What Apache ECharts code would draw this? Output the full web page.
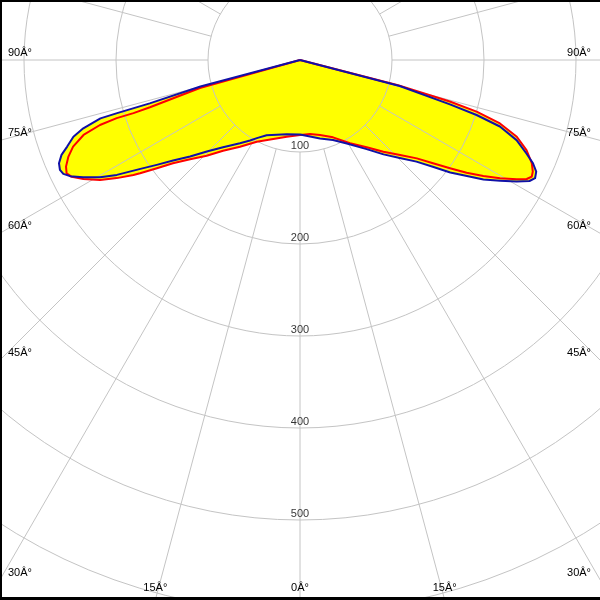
<!DOCTYPE html>
<html><head><meta charset="utf-8">
<script src="https://cdn.jsdelivr.net/npm/echarts@6/dist/echarts.min.js"></script>
<style>html,body{margin:0;padding:0;background:#fff}#c{width:600px;height:600px}</style>
</head><body><div id="c"></div>
<script>
// ---- data (intensity vs angle in degrees, 0 = downward, + = right) ----
const blueAngles = [-90,-75.2,-75.1,-73.9,-73.85,-73.8,-73.7,-72.5,-71.3,-69.6,-68.3,-66.8,-65.4,-64.3,-63.2,-61.6,-59.6,-57.9,-55.7,-53.8,-51.6,-48.7,-45.5,-41.4,-35.8,-31.8,-28.9,-23.9,-10.2,0,14.3,22.4,29.3,36.8,41.5,45.5,48.9,51.3,53.2,55.2,56.9,58.9,60.7,62.2,63.3,64.7,66.1,67.6,69.7,71.6,72.7,73.5,75.4,75.5,90];
const blueValues = [0,0,112,170,189,207,226,247,260,270,279,285,287,285.5,280,268,252,235,210,193,176,159,142,126.5,111.6,103,97,89.5,82,81,88,94,104,121,137,152,168,186,204,221,238,254,270,282,286,284,277,266,251,229,201,170,112,0,0];
const redAngles = [-90,-75.1,-74.4,-72.5,-72.3,-72.4,-72.0,-70.9,-69.1,-67.3,-65.5,-64.1,-62.9,-61.2,-59,-57.2,-55.4,-54.7,-52.9,-50.9,-47.9,-44.3,-40.3,-34.7,-27.9,-9.8,0,7.7,14.9,23.1,31,37.4,42.3,46.5,49.9,52.2,54.2,55.9,57.7,59.4,61.2,62.3,63.3,64.4,66,68.3,70.5,72.4,73.7,74.5,75.6,75.8,90];
const redValues = [0,0,113,171,190,209,228.6,249,264,273,279.5,282,278.7,268.7,253.5,237,220,213,195,178,161,145.3,129.3,114.6,100.5,84.6,81.5,81.2,84.4,91.4,105.6,119.4,134.7,150,166,183,201,218.7,235.8,252.6,268.9,278.3,282,280.6,275.8,265,250,228,200,169,110,0,0];
const ringValues = [100,200,300,400,500];
const angleTicks = [-90,-75,-60,-45,-30,-15,0,15,30,45,60,75,90];
const angleTickLabels = ['90Â°','75Â°','60Â°','45Â°','30Â°','15Â°','0Â°','15Â°','30Â°','45Â°','60Â°','75Â°','90Â°'];

// ---- layout ----
const W = 600, H = 600, CX = 300, CY = 60, R0 = 92, R1 = 644;
const FONT = 'Liberation Sans';
const GRID = '#c4c4c4';

function fillSeries(angles, values){
  return {
    type:'custom', coordinateSystem:'polar', z:1, silent:true, clip:false,
    data:[[0,0]],
    renderItem:(params, api) => {
      const pts = values.map((v,i) => api.coord([v, angles[i]]));
      return {type:'polygon', shape:{points:pts}, style:{fill:'#ffff00', stroke:null}};
    }
  };
}
function lineSeries(angles, values, color, z){
  return {
    type:'custom', coordinateSystem:'polar', z:z, silent:true, clip:false,
    data:[[0,0]],
    renderItem:(params, api) => {
      const pts = values.map((v,i) => api.coord([v, angles[i]]));
      return {type:'polyline', shape:{points:pts}, style:{fill:null, stroke:color, lineWidth:2, lineJoin:'round'}};
    }
  };
}

// angle labels where each spoke meets the frame
const graphics = [];
angleTicks.forEach((a, i) => {
  const rad = a * Math.PI / 180;
  const dx = Math.sin(rad), dy = Math.cos(rad);
  const tB = dy > 1e-9 ? (H - CY) / dy : Infinity;
  const tS = Math.abs(dx) > 1e-9 ? (dx < 0 ? CX / -dx : (W - CX) / dx) : Infinity;
  const st = {text: angleTickLabels[i], font:'11px "'+FONT+'"', fill:'#000', verticalAlign:'middle'};
  if (tB <= tS) {
    graphics.push({type:'text', z:10, x: CX + dx * tB, y: 588, style:Object.assign({align:'center'}, st)});
  } else {
    const yy = CY + dy * tS - 7;
    if (dx < 0) graphics.push({type:'text', z:10, x: 8, y: yy, style:Object.assign({align:'left'}, st)});
    else graphics.push({type:'text', z:10, x: 591, y: yy, style:Object.assign({align:'right'}, st)});
  }
});
// frame
graphics.push({type:'rect', z:20, shape:{x:0,y:0,width:W,height:2}, style:{fill:'#000'}});
graphics.push({type:'rect', z:20, shape:{x:0,y:0,width:2,height:H}, style:{fill:'#000'}});
graphics.push({type:'rect', z:20, shape:{x:0,y:H-3,width:W,height:3}, style:{fill:'#000'}});

const chart = echarts.init(document.getElementById('c'), null, {renderer:'canvas', width:W, height:H});
chart.setOption({
  animation:false,
  backgroundColor:'#ffffff',
  polar:{center:[CX, CY], radius:[R0, R1]},
  angleAxis:{
    type:'value', min:-180, max:180, interval:15, startAngle:90, clockwise:false, z:3,
    axisLine:{show:false}, axisTick:{show:false}, axisLabel:{show:false},
    splitLine:{show:true, lineStyle:{color:GRID, width:1}}
  },
  radiusAxis:{
    type:'value', min:100, max:700, interval:100, z:3,
    axisLine:{show:false}, axisTick:{show:false}, axisLabel:{show:false},
    splitLine:{show:true, lineStyle:{color:GRID, width:1}}
  },
  series:[
    fillSeries(blueAngles, blueValues),
    fillSeries(redAngles, redValues),
    lineSeries(redAngles, redValues, '#ff0000', 5),
    lineSeries(blueAngles, blueValues, '#1010a8', 6),
    {
      type:'scatter', coordinateSystem:'polar', z:8, clip:false, silent:true,
      symbolSize:0,
      data: ringValues.map(v => [v, 0]),
      label:{show:true, position:'top', distance:1, color:'#000', fontFamily:FONT, fontSize:11,
        formatter: p => String(p.value[0])}
    }
  ],
  graphic: graphics
});
</script>
</body></html>
